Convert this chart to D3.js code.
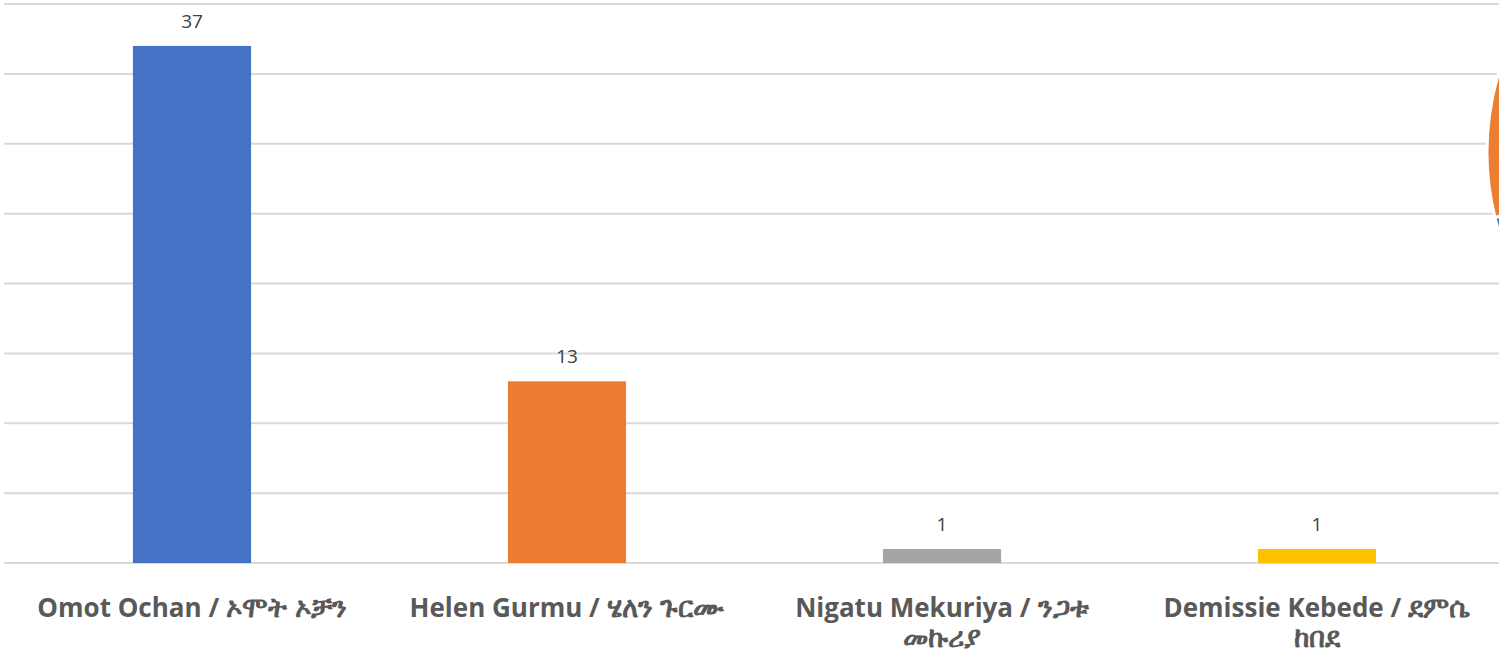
<!DOCTYPE html>
<html>
<head>
<meta charset="utf-8">
<script src="https://cdn.jsdelivr.net/npm/d3@7"></script>
<style>
  html, body { margin: 0; padding: 0; background: #fff; overflow: hidden; }
  svg { display: block; }
</style>
</head>
<body>
<svg id="chart" width="1499" height="653"></svg>
<script>
const categories = ["Omot Ochan / ኦሞት ኦቻን", "Helen Gurmu / ሄለን ጉርሙ", "Nigatu Mekuriya / ንጋቱ መኩሪያ", "Demissie Kebede / ደምሴ ከበደ"];
const values = [37, 13, 1, 1];
const colors = ["#4472C4", "#ED7D31", "#A5A5A5", "#FFC000"];
const yTicks = [0, 5, 10, 15, 20, 25, 30, 35, 40];

const svg = d3.select("#chart");

const x = d3.scaleBand().domain(categories).range([4.5, 1504.5]).paddingInner(0.685).paddingOuter(0.3425);
const y = d3.scaleLinear().domain([0, 40]).range([563, 4]);

// gridlines
svg.append("g").selectAll("line").data(yTicks).join("line")
  .attr("x1", 4).attr("x2", 1504)
  .attr("y1", d => y(d)).attr("y2", d => y(d))
  .attr("stroke", "#d9d9d9").attr("stroke-width", 2);

// bars
svg.append("g").selectAll("rect").data(values).join("rect")
  .attr("x", (d, i) => x(categories[i]))
  .attr("width", x.bandwidth())
  .attr("y", d => y(d))
  .attr("height", d => y(0) - y(d))
  .attr("fill", (d, i) => colors[i]);

// value labels
svg.append("g").selectAll("text").data(values).join("text")
  .attr("x", (d, i) => x(categories[i]) + x.bandwidth() / 2)
  .attr("y", d => y(d) - 18)
  .attr("text-anchor", "middle")
  .attr("font-family", "'Open Sans', 'Noto Sans', sans-serif")
  .attr("font-size", 19)
  .attr("fill", "#404040")
  .text(d => d);

// category labels with wrapping; Ethiopic words get a slightly larger size
const isEthiopic = w => /[\u1200-\u137F]/.test(w);
const measure = svg.append("text")
  .attr("font-family", "'Open Sans', 'Noto Sans', 'DejaVu Sans', sans-serif")
  .attr("font-weight", "bold").attr("visibility", "hidden");
function wordWidth(w) {
  measure.attr("font-size", isEthiopic(w) ? 28 : 26).text(w);
  return measure.node().getComputedTextLength();
}
const spaceW = (() => { measure.attr("font-size", 26).text("a a"); const a = measure.node().getComputedTextLength(); measure.text("aa"); return a - measure.node().getComputedTextLength(); })();

const xAxis = svg.append("g");
const maxW = 350;
categories.forEach((c, i) => {
  const cx = x(c) + x.bandwidth() / 2;
  const words = c.split(" ");
  const lines = [];
  let cur = [], curW = 0;
  words.forEach(w => {
    const ww = wordWidth(w);
    const nw = cur.length ? curW + spaceW + ww : ww;
    if (nw > maxW && cur.length) {
      lines.push(cur);
      cur = [w]; curW = ww;
    } else {
      cur.push(w); curW = nw;
    }
  });
  if (cur.length) lines.push(cur);

  const t = xAxis.append("text")
    .attr("x", cx).attr("y", 617)
    .attr("text-anchor", "middle")
    .attr("font-family", "'Open Sans', 'Noto Sans', 'DejaVu Sans', sans-serif")
    .attr("font-weight", "bold")
    .attr("font-size", 26)
    .attr("fill", "#595959");
  lines.forEach((ln, li) => {
    ln.forEach((w, wi) => {
      const ts = t.append("tspan")
        .attr("font-size", isEthiopic(w) ? 28 : 26)
        .text((wi > 0 ? " " : "") + w);
      if (wi === 0) ts.attr("x", cx).attr("dy", li === 0 ? 0 : 30);
    });
  });
});
measure.remove();

// partial pie on right edge
const pieG = svg.append("g").attr("transform", "translate(1760,152)");
const pie = d3.pie().sort(null).value(d => d)(values);
const arc = d3.arc().innerRadius(0).outerRadius(273);
pieG.selectAll("path").data(pie).join("path")
  .attr("d", arc)
  .attr("fill", (d, i) => colors[i])
  .attr("stroke", "#fff").attr("stroke-width", 3);
</script>
</body>
</html>
